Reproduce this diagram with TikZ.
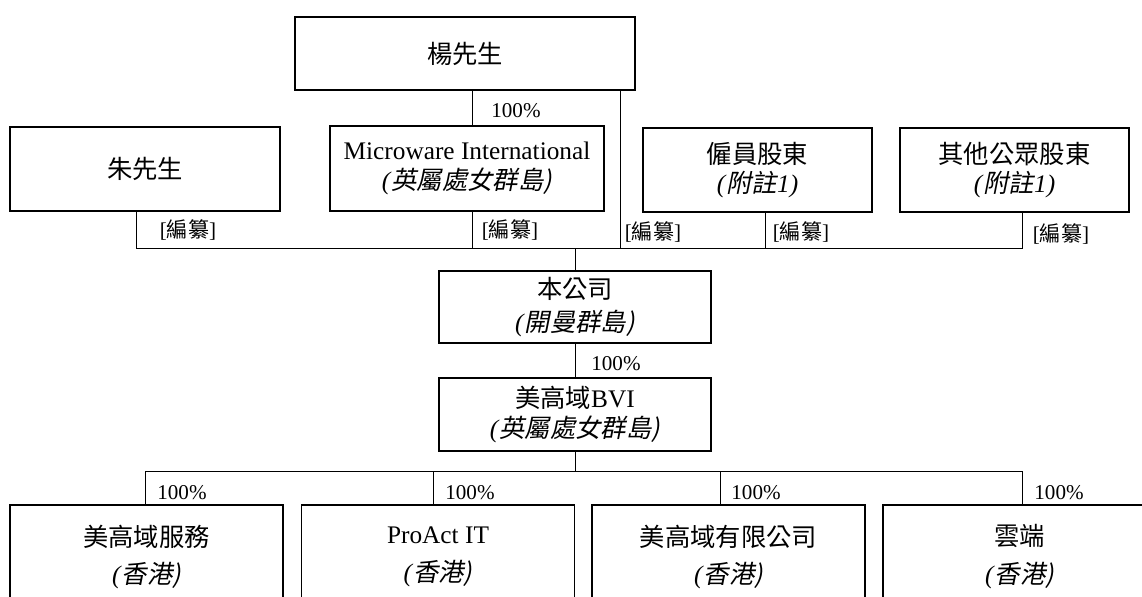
\documentclass[tikz,border=0pt]{standalone}
\usepackage{fontspec}
\setmainfont{Liberation Serif}
\newfontfamily\cjk{Noto Sans CJK TC}
\newfontfamily\cjksl[FakeSlant=0.2]{Noto Sans CJK TC}
\newcommand\loc[1]{\textit{(}#1\textit{)}}
\usetikzlibrary{positioning}

\begin{document}
\begin{tikzpicture}[x=0.025cm,y=-0.025cm,line width=0.7pt,
                    box/.style={draw,line width=0.8pt,align=center,inner sep=0pt,
                                font=\fontsize{18}{21}\selectfont},
                    sub/.style={box,minimum width=6.825cm,minimum height=2.6cm,
                                font=\fontsize{18}{27}\selectfont},
                    pct/.style={inner sep=0pt,font=\fontsize{15}{18}\selectfont}]

  \useasboundingbox (0,0) rectangle (1142,597);
  \clip (0,0) rectangle (1142,597);

  \node[box, minimum width=8.5cm, minimum height=1.825cm] (yang) at (465,53.5) {\cjk 楊先生};
  \node[box, minimum width=6.75cm, minimum height=2.1cm] (zhu) at (145,169) {\cjk 朱先生};
  \node[box, minimum width=6.85cm, minimum height=2.125cm] (micro) at (467,168.5)
       {Microware International\\\loc{\cjksl 英屬處女群島}};
  \node[box, minimum width=5.725cm, minimum height=2.1cm] (emp) at (757.5,170)
       {\cjk 僱員股東\\\loc{{\cjksl 附註}\textit{1}}};
  \node[box, minimum width=5.725cm, minimum height=2.1cm] (pub) at (1014.5,170)
       {\cjk 其他公眾股東\\\loc{{\cjksl 附註}\textit{1}}};
  \node[box, minimum width=6.8cm, minimum height=1.8cm, font=\fontsize{18}{23.5}\selectfont]
       (ben) at (575,307) {\cjk 本公司\\\loc{\cjksl 開曼群島}};
  \node[box, minimum width=6.8cm, minimum height=1.825cm] (bvi) at (575,414.5)
       {{\cjk 美高域}BVI\\\loc{\cjksl 英屬處女群島}};
  \node[sub] (serv) at (146.5,557) {\cjk 美高域服務\\\loc{\cjksl 香港}};
  \node[sub] (pro) at (438,557) {ProAct IT\\\loc{\cjksl 香港}};
  \node[sub] (ltd) at (728.5,557) {\cjk 美高域有限公司\\\loc{\cjksl 香港}};
  \node[sub] (yun) at (1019.5,557) {\cjk 雲端\\\loc{\cjksl 香港}};

  \coordinate (zhuB) at (136,248);
  \coordinate (microB) at (472,248);
  \coordinate (yangB) at (620,248);
  \coordinate (empB) at (765,248);
  \coordinate (pubB) at (1022,248);
  \coordinate (servB) at (145,471);
  \coordinate (proB) at (433,471);
  \coordinate (ltdB) at (720,471);
  \coordinate (yunB) at (1022,471);

  \draw (microB |- yang.south) -- (microB |- micro.north);
  \draw (zhuB |- zhu.south) -- (zhuB) -- (pubB) -- (pubB |- pub.south);
  \draw (microB |- micro.south) -- (microB);
  \draw (yangB |- yang.south) -- (yangB);
  \draw (empB |- emp.south) -- (empB);
  \draw (ben.north) -- (ben.north |- zhuB);
  \draw (ben.south) -- (bvi.north);
  \draw (bvi.south) -- (bvi.south |- servB);
  \draw (servB |- serv.north) -- (servB) -- (yunB) -- (yunB |- yun.north);
  \draw (proB) -- (proB |- pro.north);
  \draw (ltdB) -- (ltdB |- ltd.north);

  \node[pct] (pMicro) at (516,111) {100\%};
  \node[pct] (cZhu) at (188,230) {[{\cjk 編纂}]};
  \node[pct] (cMicro) at (510,230) {[{\cjk 編纂}]};
  \node[pct] (cYang) at (653,232) {[{\cjk 編纂}]};
  \node[pct] (cEmp) at (801,232) {[{\cjk 編纂}]};
  \node[pct] (cPub) at (1061,234) {[{\cjk 編纂}]};
  \node[pct] (pBvi) at (616,364) {100\%};
  \node[pct] (pServ) at (182,493) {100\%};
  \node[pct] (pPro) at (470,493) {100\%};
  \node[pct] (pLtd) at (756,493) {100\%};
  \node[pct] (pYun) at (1059,493) {100\%};
\end{tikzpicture}
\end{document}
